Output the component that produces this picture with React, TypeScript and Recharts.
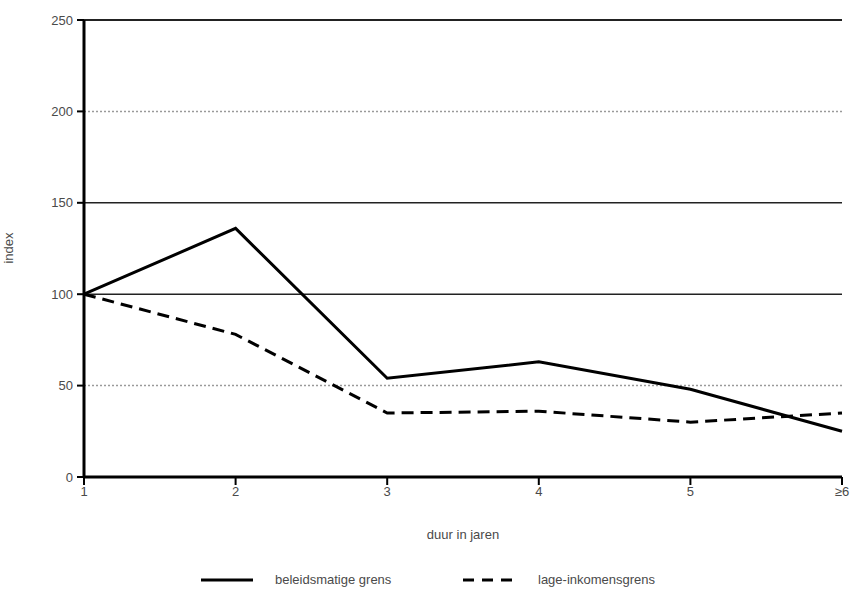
import {
  LineChart,
  Line,
  XAxis,
  YAxis,
  ReferenceLine,
  Legend,
} from "recharts";

// years of duration (last one is "6 or more")
const years = ["1", "2", "3", "4", "5", "≥6"];
const beleidsmatig = [100, 136, 54, 63, 48, 25];
const lageInkomens = [100, 78, 35, 36, 30, 35];
const yTicks = [0, 50, 100, 150, 200, 250];

const chartData = years.map((year, i) => ({
  year,
  beleidsmatig: beleidsmatig[i],
  lageInkomens: lageInkomens[i],
}));

const FONT = "'Liberation Sans Narrow', 'Liberation Sans', Arial, sans-serif";
const TEXT = "#4a4a4a";

// grid lines at 200 and 50 look grey/dotted in the original, the rest are black
function gridStroke(v: number): string {
  return v === 200 || v === 50 ? "#9a9a9a" : "#222";
}

function LegendContent() {
  return (
    <div style={{ position: "relative", width: 850, height: 40, fontFamily: FONT }}>
      <svg width={850} height={40} style={{ position: "absolute", left: 0, top: 0 }}>
        <line x1={201} y1={27} x2={253} y2={27} stroke="#000" strokeWidth={3} />
        <line
          x1={463}
          y1={27}
          x2={513}
          y2={27}
          stroke="#000"
          strokeWidth={3}
          strokeDasharray="11 8"
        />
        <text x={275} y={31} fontSize={13} fill={TEXT} fontFamily={FONT}>
          beleidsmatige grens
        </text>
        <text x={538} y={31} fontSize={13} fill={TEXT} fontFamily={FONT}>
          lage-inkomensgrens
        </text>
      </svg>
    </div>
  );
}

function YLabel() {
  return (
    <text
      x={13}
      y={248}
      transform="rotate(-90, 13, 248)"
      textAnchor="middle"
      fontSize={13}
      fill={TEXT}
      fontFamily={FONT}
    >
      index
    </text>
  );
}

export default function App() {
  return (
    <div style={{ position: "absolute", left: 0, top: 0, background: "#fff" }}>
      <LineChart
        width={850}
        height={593}
        data={chartData}
        margin={{ top: 20, right: 8, left: 0, bottom: 0 }}
      >
        {yTicks
          .filter((v) => v > 0)
          .map((v) => (
            <ReferenceLine
              key={v}
              y={v}
              stroke={gridStroke(v)}
              strokeWidth={v === 250 ? 2 : 1.5}
              strokeDasharray={v === 200 || v === 50 ? "2 2" : undefined}
            />
          ))}
        <XAxis
          dataKey="year"
          height={76}
          tickSize={8}
          tickLine={{ stroke: "#000", strokeWidth: 2 }}
          axisLine={{ stroke: "#000", strokeWidth: 3 }}
          tick={{ fontSize: 13, fill: TEXT, fontFamily: FONT }}
          interval={0}
          label={{
            value: "duur in jaren",
            position: "insideBottom",
            offset: 14,
            fontSize: 13,
            fill: TEXT,
            fontFamily: FONT,
          }}
        />
        <YAxis
          width={84}
          domain={[0, 250]}
          ticks={yTicks}
          tickSize={7}
          tickMargin={4}
          tickLine={{ stroke: "#000", strokeWidth: 2 }}
          axisLine={{ stroke: "#000", strokeWidth: 3 }}
          tick={{ fontSize: 13, fill: TEXT, fontFamily: FONT }}
          label={<YLabel />}
        />
        <Legend verticalAlign="bottom" height={40} content={<LegendContent />} />
        <Line
          dataKey="beleidsmatig"
          name="beleidsmatige grens"
          stroke="#000"
          strokeWidth={3}
          dot={false}
          isAnimationActive={false}
        />
        <Line
          dataKey="lageInkomens"
          name="lage-inkomensgrens"
          stroke="#000"
          strokeWidth={3}
          strokeDasharray="12 7"
          dot={false}
          isAnimationActive={false}
        />
      </LineChart>
    </div>
  );
}
